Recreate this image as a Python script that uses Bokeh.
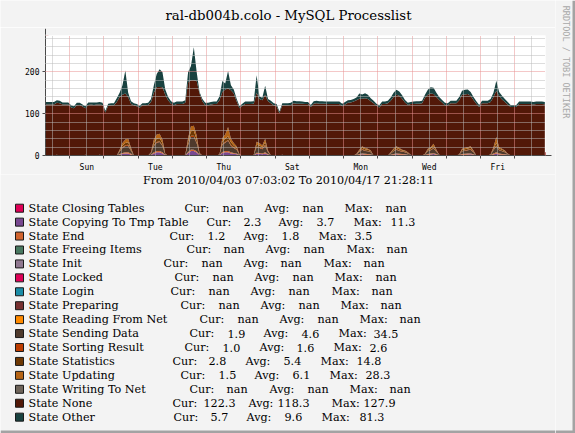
import math
from bokeh.plotting import figure
from bokeh.layouts import column, row
from bokeh.models import ColumnDataSource, Range1d, FixedTicker, Arrow, NormalHead
from bokeh.core.properties import value
from bokeh.embed import file_html
from bokeh.resources import INLINE

TITLE = "ral-db004b.colo - MySQL Processlist"
PERIOD = "From 2010/04/03 07:03:02 To 2010/04/17 21:28:11"
WATERMARK = "RRDTOOL / TOBI OETIKER"

# time axis: hours since Sat 2010-04-03 00:00 (2-hour samples)
hours = list(range(7, 358, 2))
x_start, x_end = 7.05, 357.47

day_ticks = [36, 84, 132, 180, 228, 276, 324]
day_labels = ["Sun", "Tue", "Thu", "Sat", "Mon", "Wed", "Fri"]
midnights = [24, 48, 72, 96, 120, 144, 168, 192, 216, 240, 264, 288, 312, 336]
noons = [12, 36, 60, 84, 108, 132, 156, 180, 204, 228, 252, 276, 300, 324, 348]
y_ticks = [0, 100, 200]
y_major_grid = [100, 200]
y_minor = [20, 40, 60, 80, 120, 140, 160, 180, 220, 240, 260, 280]

state_copying = [
    0, 0, 0, 0, 0, 0, 0, 0, 0,
    0, 0, 0, 0, 0, 0, 0, 0, 0, 0, 0, 0,
    0, 0, 0, 0, 0, 2, 4, 5, 5, 2, 0, 0,
    0, 0, 0, 0, 1, 5, 7.5, 8, 5, 0.5, 0, 0,
    0, 0, 0, 0, 0, 6, 11, 10.5, 7, 1, 0, 0,
    0, 0, 0, 0, 0.5, 6, 7.5, 8, 5, 4, 3, 0.5,
    0, 0, 0, 0, 0, 4, 4, 3, 5, 1.5, 0, 0,
    0, 0, 0, 0, 0, 0, 0, 0, 0, 0, 0, 0,
    0, 0, 0, 0, 0, 0, 0, 0, 0, 0, 0, 0,
    0, 0, 0, 0, 0.5, 2, 3, 2, 2, 1.5, 0, 0,
    0, 0, 0, 0, 1, 2, 3, 2, 2, 1.5, 1, 0,
    0, 0, 0, 0, 0.5, 2, 2.5, 3.5, 2, 0, 0, 0,
    0, 0, 0, 0, 0.5, 2, 2, 2.5, 3, 1.5, 0, 0,
    0, 0, 0, 0.5, 2.5, 5, 2.5, 2, 1.5, 0.5, 0, 0,
    0, 0, 0, 0, 0, 0, 0, 0, 0, 0, 0,
]
state_end = [
    0, 0, 0, 0, 0.5, 0, 0, 0, 0,
    0, 0, 0, 0, 0, 0.5, 0, 0, 0, 0, 0.5, 0,
    0, 0, 0, 0, 0, 1.5, 2, 2.5, 2.5, 2, 0, 0,
    0, 0, 0, 0, 1, 2.5, 3, 3, 2.5, 0.5, 0, 0,
    0, 0, 0, 0, 0.5, 2.5, 3.5, 3, 3, 1, 0, 0,
    0, 0, 0, 0, 0.5, 2.5, 3, 3, 2.5, 2, 2, 0.5,
    0, 0, 0, 0, 0.5, 2.5, 2, 2, 2.5, 1.5, 0, 0,
    0, 0, 0.5, 0, 0, 0, 0, 0, 0, 0, 0, 0,
    0, 0, 0, 0, 0, 0, 0, 0, 0, 0, 0, 0,
    0, 0, 0, 0, 0.5, 1.5, 2, 2, 1.5, 1.5, 0, 0,
    0, 0, 0, 0, 1, 1.5, 2, 2, 1.5, 1.5, 1, 0.5,
    0, 0, 0, 0, 0.5, 1.5, 2, 2, 1.5, 0.5, 0, 0,
    0, 0, 0, 0, 0.5, 1.5, 2, 2, 2, 1.5, 0, 0,
    0, 0, 0, 0.5, 2, 2.5, 2, 1.5, 1.5, 1, 0, 0,
    0, 0, 0, 0, 0, 0, 0, 0, 0, 0, 0,
]
state_sending = [
    0, 0, 0, 0, 1, 0, 0, 0, 0,
    0, 0, 0, 0, 0, 1, 0, 0, 0, 0, 1, 0,
    0, 0, 0, 0, 0, 5.5, 12, 15, 16, 7, 0, 0,
    0, 0, 0, 0, 3, 15, 20, 21, 15, 1.5, 0, 0,
    0, 0, 0, 0, 1, 17, 30, 31, 19, 2, 0, 0,
    0, 0, 0, 0, 1, 17, 20, 24, 16, 12, 9, 1,
    0, 0, 0, 0, 1, 13, 12, 10, 16, 5, 0, 0,
    0, 0, 1, 0, 0, 0, 0, 0, 0, 0, 0, 0,
    0, 0, 0, 0, 0, 0, 0, 0, 0, 0, 0, 0,
    0, 0, 0, 0, 1.5, 5.5, 9, 7, 6.5, 5, 0, 0,
    0, 0, 0, 0, 3, 6.5, 9, 7, 5.5, 5, 3, 1,
    0, 0, 0, 0, 1.5, 6.5, 8, 11, 5.5, 1, 0, 0,
    0, 0, 0, 0, 1, 6.5, 7, 8, 9, 5, 0, 0,
    0, 0, 0, 1, 8, 14, 8, 6.5, 5, 2, 0, 0,
    0, 0, 0, 0, 0, 0, 0, 0, 0, 0, 0,
]
state_sorting = [
    0, 0, 0, 0, 0, 0, 0, 0, 0,
    0, 0, 0, 0, 0, 0, 0, 0, 0, 0, 0, 0,
    0, 0, 0, 0, 0, 1, 1.5, 2, 2, 1, 0, 0,
    0, 0, 0, 0, 0.5, 2, 2, 2, 2, 0.5, 0, 0,
    0, 0, 0, 0, 0, 2, 2.5, 2.5, 2, 0.5, 0, 0,
    0, 0, 0, 0, 0, 2, 2, 2, 2, 1.5, 1.5, 0,
    0, 0, 0, 0, 0, 1.5, 1.5, 1.5, 2, 1, 0, 0,
    0, 0, 0, 0, 0, 0, 0, 0, 0, 0, 0, 0,
    0, 0, 0, 0, 0, 0, 0, 0, 0, 0, 0, 0,
    0, 0, 0, 0, 0.5, 1, 1.5, 1, 1, 1, 0, 0,
    0, 0, 0, 0, 0.5, 1, 1.5, 1, 1, 1, 0.5, 0,
    0, 0, 0, 0, 0.5, 1, 1.5, 1.5, 1, 0, 0, 0,
    0, 0, 0, 0, 0, 1, 1, 1.5, 1.5, 1, 0, 0,
    0, 0, 0, 0, 1.5, 2, 1.5, 1, 1, 0.5, 0, 0,
    0, 0, 0, 0, 0, 0, 0, 0, 0, 0, 0,
]
state_statistics = [
    0, 0, 0, 0, 0.5, 0, 0, 0, 0,
    0, 0, 0, 0, 0, 0.5, 0, 0, 0, 0, 0.5, 0,
    0, 0, 0, 0, 0, 2, 4.5, 5.5, 6, 3, 0, 0,
    0, 0, 0, 0, 1.5, 5.5, 7.5, 8, 5.5, 0.5, 0, 0,
    0, 0, 0, 0, 0.5, 6, 11, 12, 7, 0.5, 0, 0,
    0, 0, 0, 0, 0.5, 6, 7.5, 9, 6, 4.5, 3, 0.5,
    0, 0, 0, 0, 0.5, 5, 4.5, 3.5, 6, 1.5, 0, 0,
    0, 0, 0.5, 0, 0, 0, 0, 0, 0, 0, 0, 0,
    0, 0, 0, 0, 0, 0, 0, 0, 0, 0, 0, 0,
    0, 0, 0, 0, 0.5, 2, 3, 3, 2.5, 1.5, 0, 0,
    0, 0, 0, 0, 1.5, 2.5, 3, 3, 2, 1.5, 1.5, 0.5,
    0, 0, 0, 0, 0.5, 2.5, 3, 4.5, 2, 0.5, 0, 0,
    0, 0, 0, 0, 0.5, 2.5, 3, 3, 3, 1.5, 0, 0,
    0, 0, 0, 0.5, 3, 5.5, 3, 2.5, 1.5, 0.5, 0, 0,
    0, 0, 0, 0, 0, 0, 0, 0, 0, 0, 0,
]
state_updating = [
    0, 0, 0, 0, 0, 0, 0, 0, 0,
    0, 0, 0, 0, 0, 0, 0, 0, 0, 0, 0, 0,
    0, 0, 0, 0, 0, 2, 6, 8, 8.5, 3, 0, 0,
    0, 0, 0, 0, 1, 8, 10, 10, 8, 0.5, 0, 0,
    0, 0, 0, 0, 0, 8.5, 12, 12, 10, 1, 0, 0,
    0, 0, 0, 0, 0.5, 8.5, 10, 22, 8.5, 6, 3.5, 0.5,
    0, 0, 0, 0, 0, 7, 6, 4, 8.5, 1.5, 0, 0,
    0, 0, 0, 0, 0, 0, 0, 0, 0, 0, 0, 0,
    0, 0, 0, 0, 0, 0, 0, 0, 0, 0, 0, 0,
    0, 0, 0, 0, 0.5, 2, 3.5, 3, 2.5, 1.5, 0, 0,
    0, 0, 0, 0, 1, 2.5, 3.5, 3, 2, 1.5, 1, 0,
    0, 0, 0, 0, 0.5, 2.5, 3, 5.5, 2, 0, 0, 0,
    0, 0, 0, 0, 0.5, 2.5, 3, 3, 3.5, 1.5, 0, 0,
    0, 0, 0, 0.5, 3, 15, 3, 2.5, 1.5, 0.5, 0, 0,
    0, 0, 0, 0, 0, 0, 0, 0, 0, 0, 0,
]
state_none = [
    122, 122, 122, 122, 124, 125, 122, 122, 122,
    115, 113, 120, 121, 117, 111, 121, 122, 121, 122, 120, 121,
    103, 119, 120, 120, 128, 126, 115, 110, 100, 105, 120, 118,
    114, 120, 120, 121, 120, 112, 114, 112, 125, 141, 132, 124,
    120, 123, 123, 123, 124, 133, 110, 109, 130, 142, 130, 120,
    120, 122, 123, 123, 129, 110, 108, 92, 116, 118, 108, 110,
    119, 123, 123, 123, 122, 117, 105, 108, 105, 118, 125, 120,
    118, 101, 118, 120, 120, 121, 125, 124, 124, 124, 123, 123,
    116, 124, 125, 124, 124, 124, 123, 123, 123, 123, 123, 118,
    122, 126, 127, 129, 128, 122, 114, 119, 119, 118, 125, 119,
    115, 123, 123, 125, 123, 124, 123, 125, 122, 115, 113, 121,
    123, 124, 124, 125, 134, 129, 128, 119, 126, 131, 127, 120,
    120, 125, 125, 125, 129, 129, 128, 127, 121, 121, 124, 116,
    125, 125, 125, 125, 120, 111, 122, 118, 116, 117, 116, 116,
    116, 123, 123, 123, 123, 123, 122, 123, 123, 123, 122.3,
]
state_other = [
    6, 6, 6, 6, 6, 6, 5, 5, 5,
    5, 5, 6, 5, 5, 5, 6, 5, 6, 5, 6, 5,
    4, 5, 5, 5, 9, 10, 23, 55, 10, 7, 5, 5,
    5, 5, 5, 5, 7, 18, 31, 42, 37, 13, 8, 6,
    6, 6, 6, 6, 6, 25, 34, 79, 22, 4, 5, 6,
    6, 6, 6, 6, 9, 26, 14, 42, 12, 10, 6, 5,
    5, 6, 6, 6, 6, 42, 6, 6, 22, 5, 6, 5,
    5, 4, 5, 5, 5, 5, 6, 6, 6, 5, 5, 5,
    5, 6, 6, 6, 6, 5, 6, 6, 6, 6, 6, 6,
    6, 6, 6, 6, 7, 12, 10, 12, 10, 7, 6, 5,
    5, 6, 6, 6, 8, 10, 12, 10, 8, 6, 5, 5,
    6, 6, 6, 6, 7, 12, 15, 15, 10, 7, 6, 6,
    5, 6, 6, 6, 8, 10, 11, 11, 9, 7, 6, 5,
    6, 6, 6, 7, 10, 24, 10, 9, 7, 6, 5, 5,
    5, 6, 6, 6, 6, 6, 6, 6, 6, 6, 5.7,
]

legend_names = [
    "State Closing Tables", "State Copying To Tmp Table", "State End",
    "State Freeing Items", "State Init", "State Locked", "State Login",
    "State Preparing", "State Reading From Net", "State Sending Data",
    "State Sorting Result", "State Statistics", "State Updating",
    "State Writing To Net", "State None", "State Other",
]
legend_colors = [
    "#DE0056", "#784890", "#D1642E", "#487860", "#907890", "#DE0056",
    "#1A8CA6", "#773030", "#FF8A00", "#4F3A2C", "#BC3C00", "#6E3803",
    "#B56414", "#6E645A", "#521808", "#194240",
]
cur_vals = ["nan", "2.3", "1.2", "nan", "nan", "nan", "nan", "nan", "nan",
            "1.9", "1.0", "2.8", "1.5", "nan", "122.3", "5.7"]
avg_vals = ["nan", "3.7", "1.8", "nan", "nan", "nan", "nan", "nan", "nan",
            "4.6", "1.6", "5.4", "6.1", "nan", "118.3", "9.6"]
max_vals = ["nan", "11.3", "3.5", "nan", "nan", "nan", "nan", "nan", "nan",
            "34.5", "2.6", "14.8", "28.3", "nan", "127.9", "81.3"]

# ---- layout (page pixel positions of legend tokens) ----
row_y = [207.7 + 13.93 * i for i in range(16)]
cur_x = [184, 206, 169, 186, 163, 174, 170, 180, 199, 189, 184, 172, 180, 189, 172, 173]
curv_x = [222, 243, 207, 223, 201, 212, 208, 218, 237, 227, 222, 208, 218, 226, 203, 210]
avg_x = [264, 278, 243, 265, 243, 254, 250, 260, 279, 263, 259, 245, 254, 269, 248, 246]
avgv_x = [302, 316, 281, 303, 280, 292, 288, 298, 317, 301, 296, 283, 292, 307, 277, 284]
max_x = [344, 353, 318, 346, 323, 334, 331, 340, 359, 338, 333, 320, 329, 349, 331, 321]
maxv_x = [385, 390, 354, 386, 363, 375, 371, 380, 399, 373, 369, 356, 365, 389, 363, 359]

BG = "#F3F3F3"
SHADE = "#A3A3A3"
AXIS = "#4A4A4A"
ARROW = "#A01818"
SERIF = value("DejaVu Serif")
MONO = "DejaVu Sans Mono"
LEG_SIZE = value("11.2px")


def no_align(f):
    try:
        f.frame_align = False
    except Exception:
        pass
    return f


def pixel_fig(w, h, xr, yr):
    f = figure(width=w, height=h, x_range=Range1d(*xr), y_range=Range1d(*yr),
               output_backend="svg", toolbar_location=None, title=None,
               x_axis_type=None, y_axis_type=None, min_border=0,
               background_fill_color=BG, border_fill_color=BG,
               outline_line_color=None)
    f.grid.visible = False
    return no_align(f)


# ---- header (title) ----
head = pixel_fig(555, 27, (0, 555), (27, 0))
head.text(x=[288], y=[14.5], text=[TITLE], text_align="center",
          text_baseline="middle", text_font=SERIF,
          text_font_size=value("13.3px"), text_color="#000000")

# ---- chart ----
p = figure(width=555, height=147, x_range=Range1d(x_start, x_end),
           y_range=Range1d(0, 287), output_backend="svg",
           toolbar_location=None, title=None,
           min_border_left=45, min_border_right=10,
           min_border_top=8, min_border_bottom=18,
           background_fill_color="#FFFFFF", border_fill_color=BG,
           outline_line_color=None)
no_align(p)

src = ColumnDataSource(dict(
    x=hours, copying=state_copying, end=state_end, sending=state_sending,
    sorting=state_sorting, statistics=state_statistics,
    updating=state_updating, none=state_none, other=state_other))
stack_names = ["copying", "end", "sending", "sorting", "statistics",
               "updating", "none", "other"]
stack_colors = ["#784890", "#D1642E", "#4F3A2C", "#BC3C00", "#6E3803",
                "#B56414", "#521808", "#194240"]
p.varea_stack(stackers=stack_names, x="x", color=stack_colors, source=src)

p.xaxis.ticker = FixedTicker(ticks=day_ticks, minor_ticks=midnights)
p.xaxis.major_label_overrides = {t: l for t, l in zip(day_ticks, day_labels)}
p.xaxis.major_tick_out = 0
p.xaxis.major_tick_in = 0
p.xaxis.minor_tick_out = 3
p.xaxis.minor_tick_in = 0
p.xaxis.major_label_standoff = 4

p.yaxis.ticker = FixedTicker(ticks=y_ticks, minor_ticks=y_minor)
p.yaxis.major_tick_out = 3
p.yaxis.major_tick_in = 0
p.yaxis.minor_tick_out = 0
p.yaxis.minor_tick_in = 0
p.yaxis.major_label_standoff = 3

for ax in (p.xaxis, p.yaxis):
    ax.axis_line_color = AXIS
    ax.major_tick_line_color = AXIS
    ax.minor_tick_line_color = AXIS
    ax.major_label_text_font = MONO
    ax.major_label_text_font_size = "8px"
    ax.major_label_text_color = "#000000"

p.xgrid.ticker = FixedTicker(ticks=midnights, minor_ticks=noons)
p.ygrid.ticker = FixedTicker(ticks=y_major_grid, minor_ticks=y_minor)
for g in (p.xgrid, p.ygrid):
    g.grid_line_color = "#E89090"
    g.grid_line_dash = "1 1"
    g.minor_grid_line_color = "#BBBBBB"
    g.minor_grid_line_dash = "1 1"
    g.level = "overlay"

p.add_layout(Arrow(end=NormalHead(size=6, fill_color=ARROW, line_color=ARROW),
                   x_start=x_end, y_start=0, x_end=x_end + 4.2, y_end=0,
                   line_color=AXIS, line_width=1))
p.add_layout(Arrow(end=NormalHead(size=6, fill_color=ARROW, line_color=ARROW),
                   x_start=x_start, y_start=287, x_end=x_start, y_end=303,
                   line_color=AXIS, line_width=1))

# ---- legend / period ----
b = pixel_fig(555, 259, (0, 555), (433, 174))
b.text(x=[288], y=[179.5], text=[PERIOD], text_align="center",
       text_baseline="middle", text_font=SERIF,
       text_font_size=LEG_SIZE, text_color="#000000")
b.scatter(x=[19] * 16, y=row_y, marker="square", size=8,
          fill_color=legend_colors, line_color="#1A1A1A", line_width=1)
b.text(x=[28] * 16, y=row_y, text=legend_names, text_baseline="middle",
       text_font=SERIF, text_font_size=LEG_SIZE, text_color="#000000")
for xs, txt in ((cur_x, ["Cur:"] * 16), (curv_x, cur_vals),
                (avg_x, ["Avg:"] * 16), (avgv_x, avg_vals),
                (max_x, ["Max:"] * 16), (maxv_x, max_vals)):
    b.text(x=xs, y=row_y, text=txt, text_baseline="middle",
           text_font=SERIF, text_font_size=LEG_SIZE,
           text_color="#000000")
b.quad(left=[0], right=[555], bottom=[433], top=[430],
       fill_color=SHADE, line_color=None)

# ---- watermark column ----
c = pixel_fig(20, 433, (555, 575), (-433, 0))
c.text(x=[565.5], y=[-61.5], text=[WATERMARK], angle=-math.pi / 2,
       text_align="center", text_baseline="middle",
       text_font=value(MONO), text_font_size=value("8.5px"),
       text_color="#A8A8A8")
c.quad(left=[572], right=[575], bottom=[-433], top=[0],
       fill_color=SHADE, line_color=None)
c.quad(left=[555], right=[575], bottom=[-433], top=[-430],
       fill_color=SHADE, line_color=None)

layout = row(column(head, p, b), c)
open("out.html", "w").write(file_html(layout, INLINE))
